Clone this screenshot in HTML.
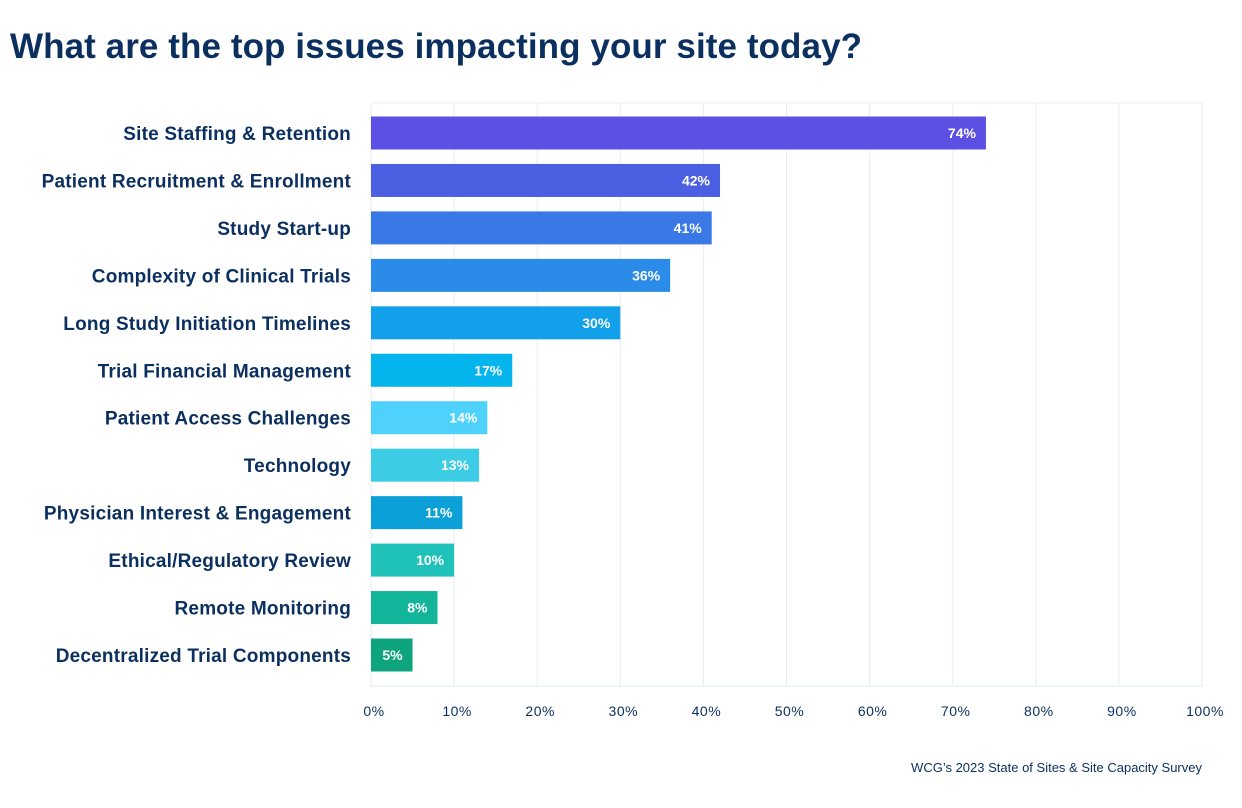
<!DOCTYPE html>
<html><head><meta charset="utf-8"><style>
body{margin:0;background:#fff;font-family:"Liberation Sans",sans-serif;}
#wrap{position:relative;width:1242px;height:808px;overflow:hidden;}
</style></head><body>
<div id="wrap">
<svg id="svg" width="1242" height="808">
<text x="10" y="58" font-size="35" font-weight="bold" fill="#0b2f5e" textLength="852">What are the top issues impacting your site today?</text>
<text x="1202" y="772" font-size="13" fill="#0b2f5e" text-anchor="end">WCG’s 2023 State of Sites &amp; Site Capacity Survey</text>
<g id="grid"></g><g id="bars"></g><g id="labels"></g>
</svg>
</div>
<script>
const categories=["Site Staffing & Retention","Patient Recruitment & Enrollment","Study Start-up","Complexity of Clinical Trials","Long Study Initiation Timelines","Trial Financial Management","Patient Access Challenges","Technology","Physician Interest & Engagement","Ethical/Regulatory Review","Remote Monitoring","Decentralized Trial Components"];
const values=[74,42,41,36,30,17,14,13,11,10,8,5];
const colors=["#5b50e3","#4b5fe3","#3a78e6","#2a8ce8","#12a0ea","#04b4ec","#4ed2fb","#3ccce6","#0ba0d8","#1fc1b8","#13b59a","#0ea57e"];
const ticks=[0,10,20,30,40,50,60,70,80,90,100];
const NS="http://www.w3.org/2000/svg";
const x0=371,x1=1202,plotTop=103,plotBottom=686;
const xs=v=>x0+(x1-x0)*v/100;
const firstC=133,lastC=655;
const yc=i=>firstC+(lastC-firstC)*i/(categories.length-1);
function mk(t,a,p){const e=document.createElementNS(NS,t);for(const k in a)e.setAttribute(k,a[k]);p.appendChild(e);return e;}
const grid=document.getElementById('grid'),bars=document.getElementById('bars'),labels=document.getElementById('labels');
mk('line',{x1:x0,x2:x1,y1:plotTop,y2:plotTop,stroke:'#e6f0f2','stroke-width':1},grid);
mk('line',{x1:x0,x2:x1,y1:plotBottom,y2:plotBottom,stroke:'#dfeaec','stroke-width':1},grid);
ticks.forEach(t=>{
 const l=mk('line',{x1:xs(t),x2:xs(t),y1:plotTop,y2:plotBottom,stroke:'#e6eef0','stroke-width':1},grid);
 
 
 const tx=mk('text',{x:xs(t)+3,y:716,'font-size':14,fill:'#0b2f5e','text-anchor':'middle','letter-spacing':'0.5'},labels);
 tx.textContent=t+'%';
 
 
});
categories.forEach((c,i)=>{
 const y=yc(i),h=33;
 const r=mk('rect',{x:x0,y:y-h/2,width:xs(values[i])-x0,height:h,fill:colors[i]},bars);
 
 
 const v=mk('text',{x:xs(values[i])-10,y:y+5,'font-size':14,'font-weight':'bold',fill:'#fff','text-anchor':'end'},labels);
 v.textContent=values[i]+'%';
 
 
 const l=mk('text',{x:351,y:y+7,'font-size':19,'font-weight':'bold',fill:'#0b2f5e','text-anchor':'end','letter-spacing':'0.2'},labels);
 l.textContent=c;
 
 
});
</script>
</body></html>
